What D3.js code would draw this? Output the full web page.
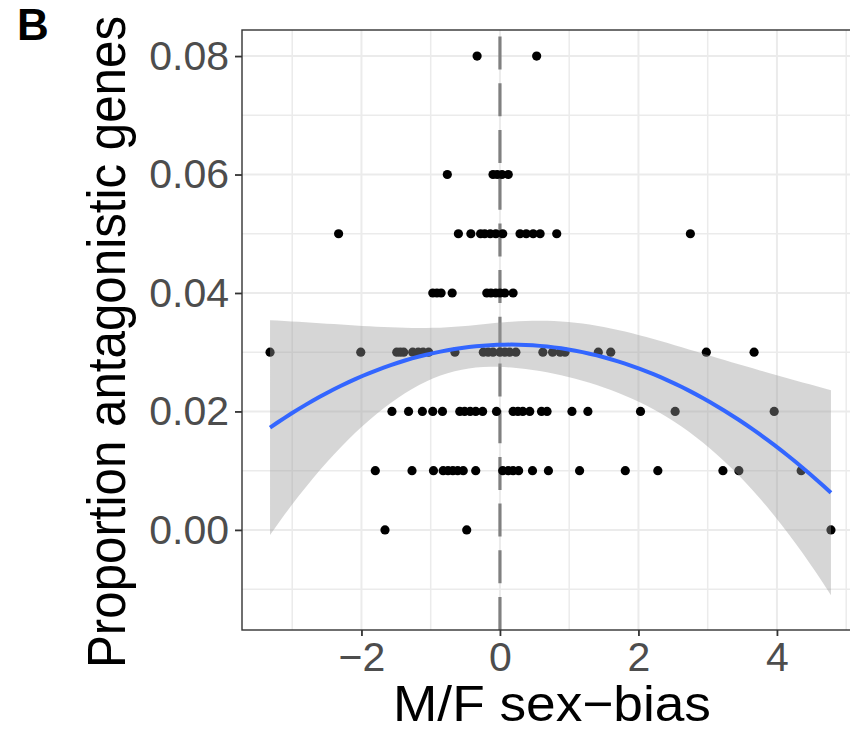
<!DOCTYPE html>
<html lang="en">
  <head>
    <meta charset="UTF-8" />
    <title>Proportion antagonistic genes vs M/F sex-bias</title>
    <script src="https://d3js.org/d3.v7.min.js"></script>
    <style>
      body { margin: 0; background: #fff; }
      svg { display: block; font-family: "Liberation Sans", Arial, Helvetica, sans-serif; }
    </style>
  </head>
  <body>
    <div id="viz"></div>
    <script>
      // points, grouped by proportion level (y) -> sex-bias values (x)
      const yLevels = [0.08, 0.06, 0.05, 0.04, 0.03, 0.02, 0.01, 0.0];
      const xByLevel = [
        [-0.33, 0.53],
        [-0.76, -0.1, -0.04, 0.03, 0.12],
        [-2.33, -0.6, -0.42, -0.28, -0.22, -0.14, -0.06, 0.04, 0.29, 0.38, 0.48, 0.58, 0.82, 2.75],
        [-0.97, -0.91, -0.85, -0.69, -0.19, -0.13, -0.06, 0.0, 0.07, 0.19],
        [-3.32, -2.01, -1.49, -1.44, -1.39, -1.26, -1.18, -1.11, -1.03, -0.65, -0.24, -0.17, -0.1, 0.0,
         0.07, 0.14, 0.23, 0.62, 0.76, 0.87, 0.94, 1.42, 1.6, 2.98, 3.67],
        [-1.56, -1.32, -1.12, -0.97, -0.83, -0.58, -0.51, -0.43, -0.35, -0.25, -0.05, 0.19, 0.26, 0.33,
         0.43, 0.6, 0.68, 1.04, 1.27, 2.03, 2.53, 3.96],
        [-1.8, -1.27, -0.96, -0.82, -0.75, -0.68, -0.61, -0.53, -0.35, 0.04, 0.12, 0.19, 0.27, 0.47,
         0.7, 1.15, 1.81, 2.28, 3.22, 3.45, 4.35],
        [-1.66, -0.48, 4.78]
      ];
      const xMajor = [-2, 0, 2, 4];
      const xMinor = [-3, -1, 1, 3, 5];
      const yMajor = [0, 0.02, 0.04, 0.06, 0.08];
      const yMinor = [-0.01, 0.01, 0.03, 0.05, 0.07];

      const W = 850, H = 732;
      const panel = { left: 242, right: 859, top: 30, bottom: 630 };

      const points = [];
      yLevels.forEach((y, i) => xByLevel[i].forEach(x => points.push({ x, y })));

      // quadratic lm fit with 95% confidence band (geom_smooth, y ~ poly(x, 2))
      function fitQuadratic(pts) {
        const n = pts.length;
        const XtX = [[0, 0, 0], [0, 0, 0], [0, 0, 0]];
        const Xty = [0, 0, 0];
        pts.forEach(p => {
          const v = [1, p.x, p.x * p.x];
          for (let i = 0; i < 3; i++) {
            Xty[i] += v[i] * p.y;
            for (let j = 0; j < 3; j++) XtX[i][j] += v[i] * v[j];
          }
        });
        const inv = invert3(XtX);
        const b = [0, 1, 2].map(i => inv[i][0] * Xty[0] + inv[i][1] * Xty[1] + inv[i][2] * Xty[2]);
        let rss = 0;
        pts.forEach(p => {
          const r = p.y - (b[0] + b[1] * p.x + b[2] * p.x * p.x);
          rss += r * r;
        });
        return { b, inv, s2: rss / (n - 3) };
      }
      function invert3(m) {
        const [a, b, c] = m[0], [d, e, f] = m[1], [g, h, k] = m[2];
        const A = e * k - f * h, B = -(d * k - f * g), C = d * h - e * g;
        const det = a * A + b * B + c * C;
        return [
          [A / det, -(b * k - c * h) / det, (b * f - c * e) / det],
          [B / det, (a * k - c * g) / det, -(a * f - c * d) / det],
          [C / det, -(a * h - b * g) / det, (a * e - b * d) / det]
        ];
      }

      const fit = fitQuadratic(points);
      const tq = 1.984; // t(0.975, df ~ 99)
      const xExt = d3.extent(points, d => d.x);
      const smooth = d3.range(80).map(i => {
        const x = xExt[0] + (xExt[1] - xExt[0]) * i / 79;
        const v = [1, x, x * x];
        const y = fit.b[0] + fit.b[1] * x + fit.b[2] * x * x;
        let q = 0;
        for (let a = 0; a < 3; a++) for (let c = 0; c < 3; c++) q += v[a] * fit.inv[a][c] * v[c];
        const se = Math.sqrt(fit.s2 * q);
        return { x, y, lo: y - tq * se, hi: y + tq * se };
      });

      // scales, ggplot-style 5% expansion on x
      const xPad = (xExt[1] - xExt[0]) * 0.05;
      const x = d3.scaleLinear().domain([xExt[0] - xPad, xExt[1] + xPad]).range([panel.left, panel.right]);
      const y = d3.scaleLinear().domain([-0.0169, 0.0844]).range([panel.bottom, panel.top]);

      const svg = d3.select("#viz").append("svg").attr("width", W).attr("height", H);

      svg.append("clipPath").attr("id", "pclip").append("rect")
        .attr("x", panel.left).attr("y", panel.top)
        .attr("width", panel.right - panel.left).attr("height", panel.bottom - panel.top);

      const g = svg.append("g").attr("clip-path", "url(#pclip)");

      // grid
      g.selectAll(".xminor").data(xMinor).join("line")
        .attr("x1", d => x(d)).attr("x2", d => x(d)).attr("y1", panel.top).attr("y2", panel.bottom)
        .attr("stroke", "#ebebeb").attr("stroke-width", 1.5);
      g.selectAll(".yminor").data(yMinor).join("line")
        .attr("y1", d => y(d)).attr("y2", d => y(d)).attr("x1", panel.left).attr("x2", panel.right)
        .attr("stroke", "#ebebeb").attr("stroke-width", 1.5);
      g.selectAll(".xmajor").data(xMajor).join("line")
        .attr("x1", d => x(d)).attr("x2", d => x(d)).attr("y1", panel.top).attr("y2", panel.bottom)
        .attr("stroke", "#ebebeb").attr("stroke-width", 2);
      g.selectAll(".ymajor").data(yMajor).join("line")
        .attr("y1", d => y(d)).attr("y2", d => y(d)).attr("x1", panel.left).attr("x2", panel.right)
        .attr("stroke", "#ebebeb").attr("stroke-width", 2);

      // vertical dashed line at 0, drawn bottom to top
      g.append("line")
        .attr("x1", x(0)).attr("x2", x(0)).attr("y1", panel.bottom).attr("y2", panel.top)
        .attr("stroke", "#808080").attr("stroke-width", 3.2)
        .attr("stroke-dasharray", "33,13.7");

      // points
      g.selectAll(".pt").data(points).join("circle")
        .attr("cx", d => x(d.x)).attr("cy", d => y(d.y)).attr("r", 4.6)
        .attr("fill", "#000");

      // confidence band
      g.append("path").datum(smooth)
        .attr("d", d3.area().x(d => x(d.x)).y0(d => y(d.lo)).y1(d => y(d.hi)))
        .attr("fill", "#999999").attr("fill-opacity", 0.4);

      // fitted line
      g.append("path").datum(smooth)
        .attr("d", d3.line().x(d => x(d.x)).y(d => y(d.y)))
        .attr("fill", "none").attr("stroke", "#3366FF").attr("stroke-width", 4);

      // panel border
      svg.append("rect")
        .attr("x", panel.left).attr("y", panel.top)
        .attr("width", panel.right - panel.left).attr("height", panel.bottom - panel.top)
        .attr("fill", "none").attr("stroke", "#333").attr("stroke-width", 1.4);

      // axes
      const xAxis = svg.append("g").attr("transform", `translate(0,${panel.bottom})`)
        .call(d3.axisBottom(x).tickValues(xMajor).tickSize(6).tickPadding(6).tickFormat(d3.format("d")));
      xAxis.select(".domain").remove();
      xAxis.selectAll("line").attr("stroke", "#333").attr("stroke-width", 1.8);
      xAxis.selectAll("text").attr("fill", "#4d4d4d").attr("font-size", 41)
        .attr("font-family", "Liberation Sans, Arial, sans-serif");

      const yAxis = svg.append("g").attr("transform", `translate(${panel.left},0)`)
        .call(d3.axisLeft(y).tickValues(yMajor).tickSize(7).tickPadding(6).tickFormat(d3.format(".2f")));
      yAxis.select(".domain").remove();
      yAxis.selectAll("line").attr("stroke", "#333").attr("stroke-width", 1.8);
      yAxis.selectAll("text").attr("fill", "#4d4d4d").attr("font-size", 41)
        .attr("font-family", "Liberation Sans, Arial, sans-serif");

      // titles
      svg.append("text")
        .attr("x", 552).attr("y", 721)
        .attr("text-anchor", "middle").attr("font-size", 50).attr("fill", "#000")
        .attr("textLength", 318).attr("lengthAdjust", "spacingAndGlyphs")
        .text("M/F sex\u2212bias");

      svg.append("text")
        .attr("transform", "translate(125,342) rotate(-90) scale(1,1.08)")
        .attr("text-anchor", "middle").attr("font-size", 49.3).attr("fill", "#000")
        .text("Proportion antagonistic genes");

      svg.append("text")
        .attr("x", 17).attr("y", 40)
        .attr("font-size", 44).attr("font-weight", "bold").attr("fill", "#000")
        .text("B");
    </script>
  </body>
</html>
